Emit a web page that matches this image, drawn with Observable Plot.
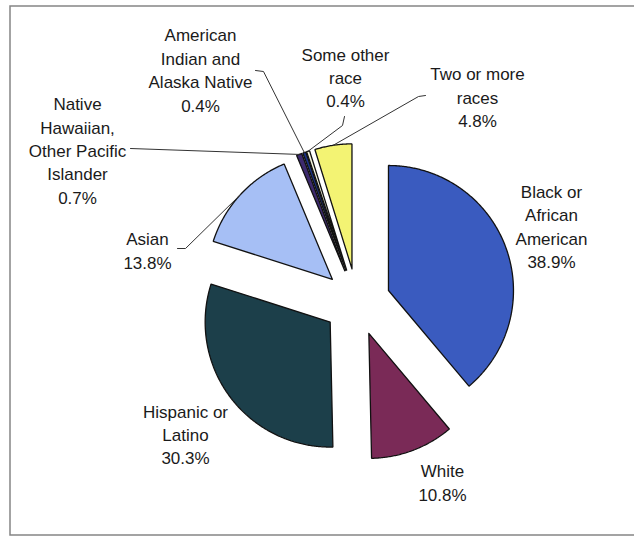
<!DOCTYPE html>
<html><head><meta charset="utf-8">
<script src="https://cdn.jsdelivr.net/npm/d3@7"></script>
<script src="https://cdn.jsdelivr.net/npm/@observablehq/plot@0.6"></script>
<style>body{margin:0;background:#fff}</style>
</head><body><div id="chart"></div>
<script>
// ---- data ----
const categories = ["Black or African American","White","Hispanic or Latino","Asian","Native Hawaiian, Other Pacific Islander","American Indian and Alaska Native","Some other race","Two or more races"];
const values = [38.9, 10.8, 30.3, 13.8, 0.7, 0.4, 0.4, 4.8];
const labelLines = ["Black or\nAfrican\nAmerican","White","Hispanic or\nLatino","Asian","Native\nHawaiian,\nOther Pacific\nIslander","American\nIndian and\nAlaska Native","Some other\nrace","Two or more\nraces"];
const colors = ["#3a5bbf","#7a2a57","#1c3f4a","#a6bff5","#3d2a6e","#1c3388","#f5f5dc","#f3f373"];

// ---- layout ----
const W = 634, H = 539, cx = 356.5, cy = 301.5, r = 125, explode = 33.5;
const labelPos = [[551,225],[442,481],[185,433],[147,249],[77,149],[200,68.5],[345,76],[477,95.5]];
const leaderStart = {3: [[177,248],[185,248]], 4: [[130,148]], 5: [[255,70],[263,71]], 6: [[344,116],[342,125]], 7: [[425,95],[418,96]]};

const total = d3.sum(values);
let acc = 0;
const slices = values.map((v, i) => {
  const a0 = acc / total * 2 * Math.PI; acc += v;
  const a1 = acc / total * 2 * Math.PI;
  const m = (a0 + a1) / 2;
  return {i, a0, a1, m, ox: cx + explode * Math.sin(m), oy: cy - explode * Math.cos(m)};
});
const pts = [];
for (const s of slices) {
  const cat = categories[s.i];
  pts.push({cat, x: s.ox, y: s.oy});
  const n = Math.max(2, Math.ceil((s.a1 - s.a0) / (Math.PI / 360)));
  for (let k = 0; k <= n; k++) {
    const t = s.a0 + (s.a1 - s.a0) * k / n;
    pts.push({cat, x: s.ox + r * Math.sin(t), y: s.oy - r * Math.cos(t)});
  }
  pts.push({cat, x: s.ox, y: s.oy});
}
const leaders = [];
for (const [k, starts] of Object.entries(leaderStart)) {
  const s = slices[+k];
  for (const [x, y] of starts) leaders.push({k, x, y});
  leaders.push({k, x: s.ox + r * Math.sin(s.m), y: s.oy - r * Math.cos(s.m)});
}
const fmt = d3.format(".1f");
const labels = categories.map((c, i) => ({x: labelPos[i][0], y: labelPos[i][1], text: labelLines[i] + "\n" + fmt(values[i]) + "%"}));

const chart = Plot.plot({
  width: W, height: H, margin: 0,
  x: {domain: [0, W], range: [0, W], axis: null},
  y: {domain: [0, H], range: [0, H], axis: null},
  color: {domain: categories, range: colors},
  style: {fontFamily: "'Liberation Sans', Arial, sans-serif", background: "#fff"},
  marks: [
    Plot.frame({stroke: "#858585", strokeWidth: 1.5, insetLeft: 9.5, insetTop: 5.5, insetBottom: 4.5, insetRight: -5}),
    Plot.line(pts, {x: "x", y: "y", z: "cat", fill: "cat", stroke: "#111", strokeWidth: 1.3, strokeLinejoin: "miter"}),
    Plot.line(leaders, {x: "x", y: "y", z: "k", stroke: "#333", strokeWidth: 1}),
    Plot.text(labels, {x: "x", y: "y", text: "text", fontSize: 17, lineHeight: 1.38, fill: "#1a1a1a"})
  ]
});
document.getElementById("chart").appendChild(chart);
</script>
</body></html>
